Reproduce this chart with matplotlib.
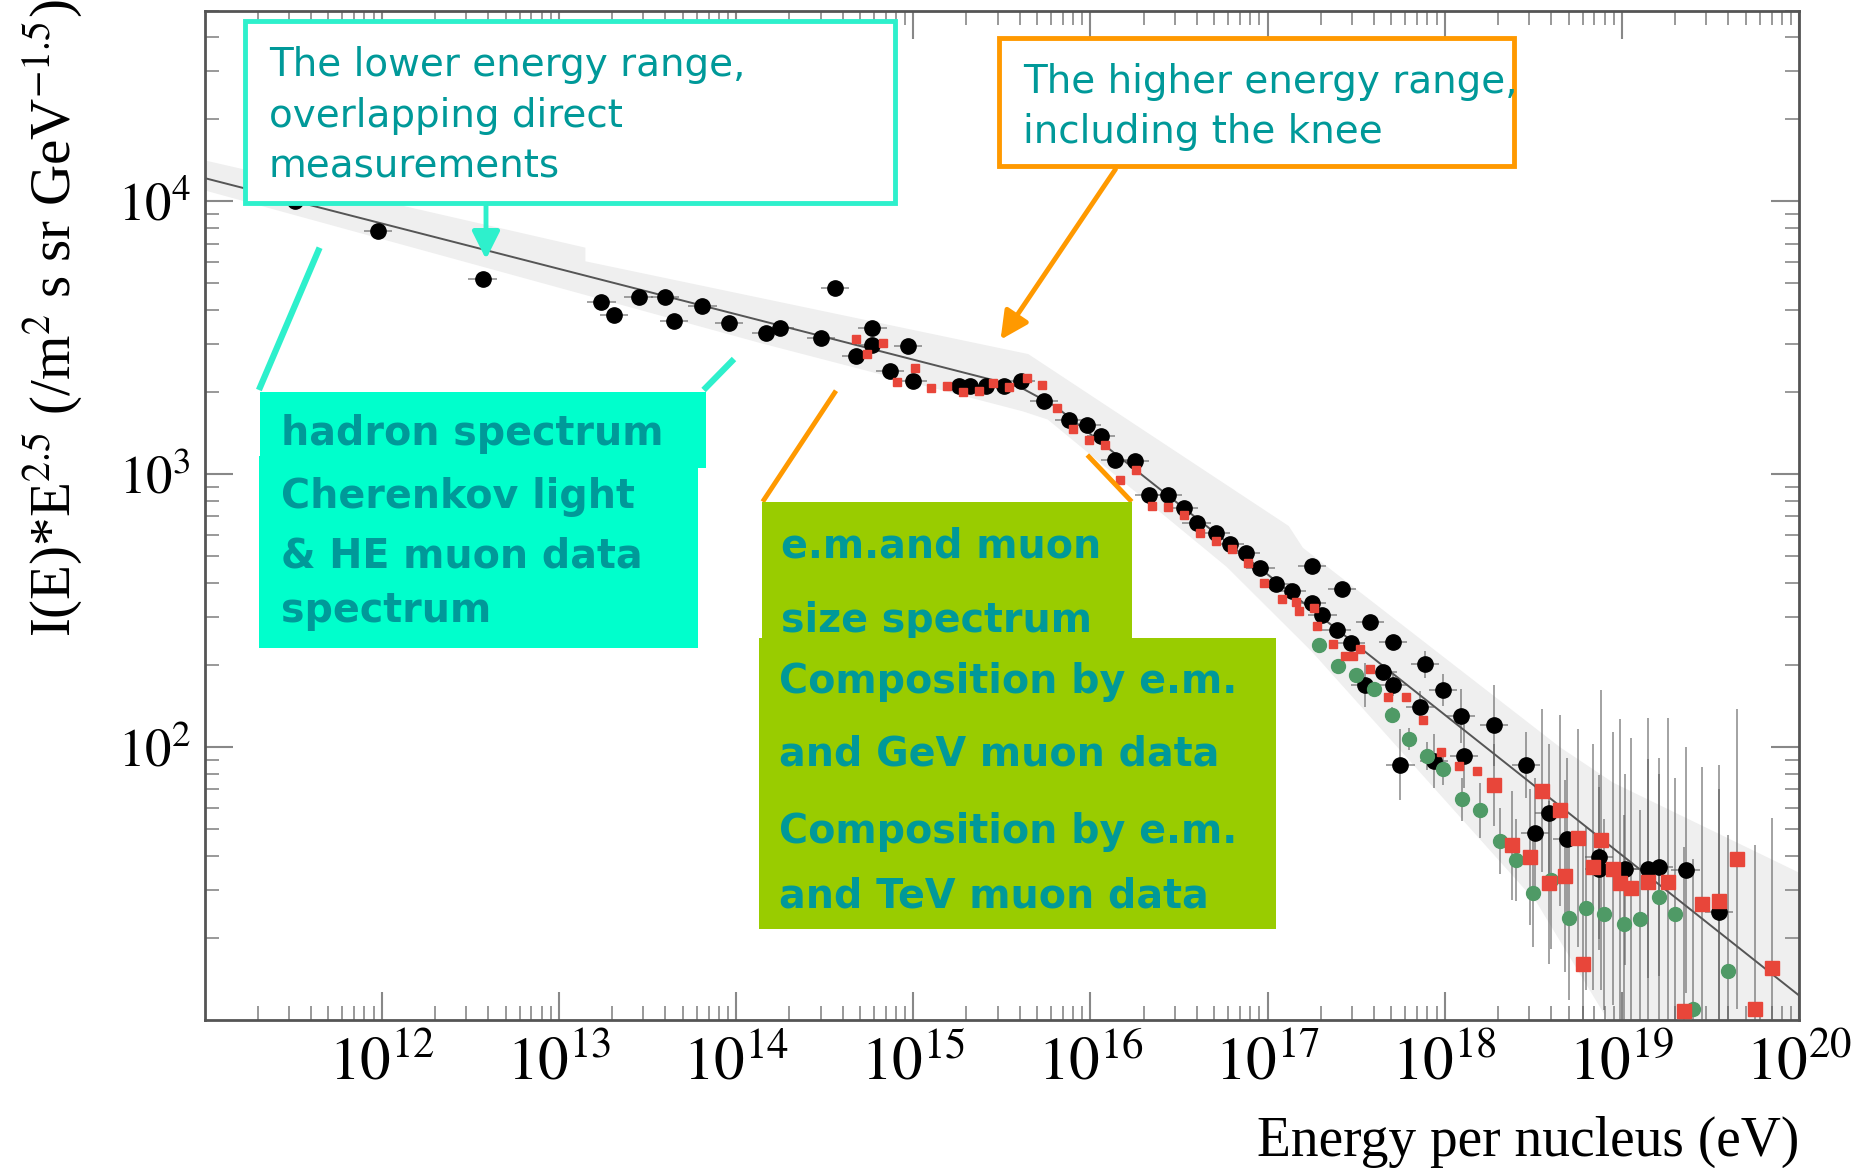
import numpy as np
import matplotlib.pyplot as plt
from matplotlib.patches import Rectangle, FancyArrowPatch
from matplotlib.lines import Line2D
from matplotlib.ticker import LogLocator, NullFormatter

plt.rcParams['font.family'] = ['Liberation Serif', 'DejaVu Serif']
plt.rcParams['mathtext.fontset'] = 'stix'

# ---- data: log10(E/eV), I(E)*E^2.5, error in dex ----
black_lgE = [11.51, 11.98, 12.57, 13.24, 13.31, 13.45, 13.60, 13.65, 13.81, 13.96,
             14.17, 14.25, 14.48, 14.56, 14.68, 14.77, 14.77, 14.87, 14.97, 15.00,
             15.26, 15.32, 15.41, 15.51, 15.61, 15.74, 15.88, 15.98, 16.06, 16.14,
             16.25, 16.33, 16.44, 16.53, 16.60, 16.71, 16.79, 16.88, 16.96, 17.05,
             17.14, 17.25, 17.25, 17.31, 17.42, 17.39, 17.47, 17.58, 17.71, 17.65,
             17.71, 17.55, 17.89, 17.86, 17.99, 18.09, 18.28, 17.94, 18.11, 17.75,
             18.46, 18.59, 18.51, 18.69, 18.87, 18.87, 19.02, 19.15, 19.21, 19.36, 19.55]
black_flux = [10000, 7780, 5180, 4290, 3830, 4450, 4450, 3630, 4140, 3570,
              3280, 3440, 3160, 4800, 2710, 3440, 2980, 2380, 2960, 2190,
              2110, 2110, 2110, 2110, 2200, 1850, 1585, 1520, 1380, 1130,
              1115, 836, 836, 753, 664, 610, 553, 515, 455, 395,
              373, 460, 338, 304, 381, 268, 240, 288, 243, 189,
              169, 169, 201, 140, 162, 130, 120, 89, 93, 86,
              86, 57.5, 48.6, 45.9, 39.6, 35.9, 35.7, 35.9, 36.4, 35.4, 24.9]
black_err = [0, 0, 0, 0, 0, 0, 0, 0, 0, 0,
             0, 0, 0, 0, 0, 0, 0, 0, 0, 0,
             0, 0, 0, 0, 0, 0, 0, 0, 0, 0,
             0, 0, 0, 0, 0, 0, 0, 0, 0, 0,
             0, 0, 0, 0, 0, 0, 0, 0, 0, 0,
             0.04, 0.08, 0.05, 0.06, 0.06, 0.1, 0.15, 0.1, 0.12, 0.13,
             0.12, 0.25, 0.2, 0.3, 0.3, 0.3, 0.35, 0.4, 0.4, 0.45, 0.45]

red_small_lgE = [14.68, 14.74, 14.83, 14.91, 15.01, 15.10, 15.19, 15.28, 15.37, 15.45,
                 15.54, 15.64, 15.73, 15.81, 15.90, 15.99, 16.08, 16.17, 16.26, 16.35,
                 16.44, 16.53, 16.62, 16.71, 16.80, 16.89, 16.98, 17.08, 17.16, 17.18,
                 17.26, 17.28, 17.37, 17.44, 17.48, 17.52, 17.58, 17.68, 17.78, 17.88,
                 17.98, 18.08, 18.18]
red_small_flux = [3130, 2750, 3020, 2170, 2440, 2065, 2110, 1995, 2020, 2160,
                  2095, 2250, 2125, 1745, 1460, 1335, 1280, 955, 1040, 767,
                  759, 711, 610, 569, 530, 473, 398, 350, 340, 316,
                  324, 278, 238, 216, 216, 229, 194, 153, 153, 126,
                  96, 85, 82]

red_big_lgE = [18.28, 18.38, 18.48, 18.55, 18.59, 18.65, 18.68, 18.75, 18.78, 18.84,
               18.88, 18.95, 18.99, 19.05, 19.15, 19.26, 19.35, 19.45, 19.55, 19.65,
               19.75, 19.85]
red_big_flux = [72.8, 43.7, 39.6, 69.3, 31.9, 58.6, 33.7, 46.5, 16.0, 36.4,
                45.6, 35.9, 31.9, 30.5, 32.1, 32.1, 10.8, 26.7, 27.3, 38.8,
                11.0, 15.5]
red_big_err = [0.15, 0.2, 0.25, 0.3, 0.3, 0.35, 0.35, 0.4, 0.45, 0.45,
               0.55, 0.5, 0.6, 0.55, 0.6, 0.6, 0.6, 0.5, 0.5, 0.55,
               0.6, 0.55]

green_lgE = [17.29, 17.40, 17.50, 17.60, 17.70, 17.80, 17.90, 17.99, 18.10, 18.20,
             18.31, 18.40, 18.50, 18.60, 18.70, 18.80, 18.90, 19.01, 19.10, 19.21,
             19.30, 19.40, 19.60]
green_flux = [237, 199, 184, 163, 131, 107, 92.7, 83.4, 64.3, 58.6,
              45.2, 38.5, 29.3, 32.5, 23.7, 25.8, 24.4, 22.4, 23.4, 28.3,
              24.4, 11.0, 15.1]
green_err = [0, 0, 0, 0, 0.03, 0.04, 0.05, 0.06, 0.08, 0.1,
             0.12, 0.15, 0.2, 0.25, 0.3, 0.3, 0.35, 0.4, 0.4, 0.45,
             0.5, 0.55, 0.5]

# fitted spectrum and its grey uncertainty band
fit_lgE = [11.0, 15.6, 15.8, 20.0]
fit_lgI = [4.085, 3.32, 3.25, 1.09]
band_up_lgE = [11.0, 13.15, 13.15, 15.65, 17.12, 17.2, 18.65, 18.95, 20.0]
band_up_lgI = [4.15, 3.83, 3.78, 3.44, 2.81, 2.73, 2.0, 1.87, 1.54]
band_lo_lgE = [11.0, 14.14, 15.62, 15.76, 16.77, 17.25, 18.52, 19.2, 20.0]
band_lo_lgI = [4.04, 3.48, 3.23, 3.20, 2.66, 2.35, 1.43, 0.7, 0.7]

xtick_exp = [12, 13, 14, 15, 16, 17, 18, 19, 20]
ytick_exp = [2, 3, 4]


def dex_err(flux, err):
    flux = np.asarray(flux, float)
    err = np.asarray(err, float)
    return [flux - flux / 10**err, flux * 10**err - flux]


W, H = 1853, 1168
fig = plt.figure(figsize=(W / 100, H / 100), dpi=100)
ax = fig.add_axes([204.5 / W, 1 - 1020 / H, (1799 - 204.5) / W, (1020 - 10.5) / H])
ax.set_xscale('log')
ax.set_yscale('log')
ax.set_xlim(1e11, 1e20)
ax.set_ylim(10, 5e4)

band_x = 10.0 ** np.concatenate([band_up_lgE, band_lo_lgE[::-1]])
band_y = 10.0 ** np.concatenate([band_up_lgI, band_lo_lgI[::-1]])
ax.fill(band_x, band_y, color='#efefef', lw=0, zorder=1)
ax.plot(10.0 ** np.array(fit_lgE), 10.0 ** np.array(fit_lgI), color='#555555', lw=1.4, zorder=2)

ebar = dict(fmt='none', ecolor=(0.35, 0.35, 0.35, 0.6), elinewidth=1.3, capsize=0)

bE = 10.0 ** np.array(black_lgE)
ax.errorbar(bE, black_flux, xerr=[bE - bE / 10**0.08, bE * 10**0.08 - bE],
            yerr=dex_err(black_flux, black_err), zorder=3, **ebar)
ax.plot(bE, black_flux, 'o', color='black', ms=11, zorder=3.5)

gE = 10.0 ** np.array(green_lgE)
ax.errorbar(gE, green_flux, yerr=dex_err(green_flux, green_err), zorder=3, **ebar)
ax.plot(gE, green_flux, 'o', color='#4f9a66', ms=10, zorder=4)

rbE = 10.0 ** np.array(red_big_lgE)
ax.errorbar(rbE, red_big_flux, yerr=dex_err(red_big_flux, red_big_err), zorder=3, **ebar)
ax.plot(rbE, red_big_flux, 's', color='#e8463a', ms=10.5, zorder=5)
ax.plot(10.0 ** np.array(red_small_lgE), red_small_flux, 's', color='#e8463a', ms=6, zorder=5)

# axes cosmetics
ax.set_xticks(10.0 ** np.array(xtick_exp))
ax.set_xticklabels([rf'$10^{{{k}}}$' for k in xtick_exp])
ax.set_yticks(10.0 ** np.array(ytick_exp))
ax.set_yticklabels([rf'$10^{{{k}}}$' for k in ytick_exp])
ax.xaxis.set_minor_locator(LogLocator(base=10, subs=np.arange(2, 10), numticks=30))
ax.yaxis.set_minor_locator(LogLocator(base=10, subs=np.arange(2, 10), numticks=30))
ax.xaxis.set_minor_formatter(NullFormatter())
ax.yaxis.set_minor_formatter(NullFormatter())
ax.tick_params(which='both', direction='in', top=True, right=True, color='#888888')
ax.tick_params(which='major', length=20, width=1.5)
ax.tick_params(which='minor', length=10, width=1.2)
ax.tick_params(axis='x', which='major', labelsize=44, pad=12)
ax.tick_params(axis='y', which='major', labelsize=38, pad=10)
for sp in ax.spines.values():
    sp.set_color('#555555')
    sp.set_linewidth(2)

fig.text(53 / W, 1 - 318 / H, r'I(E)*E$^{2.5}$ (/m$^{2}$ s sr GeV$^{-1.5}$)',
         rotation=90, ha='center', va='center', fontsize=41)
fig.text(1799 / W, 1 - 1156 / H, 'Energy per nucleus (eV)', ha='right', va='baseline', fontsize=40)


# ---- slide annotations (pixel positions, origin top-left) ----
def fx(x):
    return x / W


def fy(y):
    return 1 - y / H


def box(x0, y0, x1, y1, z, **kw):
    fig.add_artist(Rectangle((fx(x0), fy(y1)), fx(x1) - fx(x0), fy(y0) - fy(y1),
                             transform=fig.transFigure, zorder=z, **kw))


def seg(x0, y0, x1, y1, color, lw):
    fig.add_artist(Line2D([fx(x0), fx(x1)], [fy(y0), fy(y1)], transform=fig.transFigure,
                          color=color, lw=lw, solid_capstyle='butt', zorder=6))


def arrow(x0, y0, x1, y1, color, lw):
    fig.add_artist(FancyArrowPatch((fx(x0), fy(y0)), (fx(x1), fy(y1)), transform=fig.transFigure,
                                   arrowstyle='-|>,head_length=1.2,head_width=0.6',
                                   mutation_scale=14, color=color, lw=lw, zorder=6))


def label(x, y, s, z, bold=False):
    fig.text(fx(x), fy(y), s, ha='left', va='baseline', fontsize=28.5 if bold else 28,
             family='DejaVu Sans', fontweight='bold' if bold else 'normal',
             color='#009999', zorder=z)


teal_line = '#2ef0cc'
orange = '#ff9900'

# lower energy range box
box(244.6, 21.3, 894.6, 203.3, 6, facecolor='white', edgecolor=teal_line, lw=3.5)
label(269, 76, 'The lower energy range,', 7)
label(269, 127, 'overlapping direct', 7)
label(269, 178, 'measurements', 7)
arrow(486, 203, 486, 262, teal_line, 3.5)

# higher energy range box
box(998.6, 37.8, 1513.8, 165.5, 6, facecolor='white', edgecolor=orange, lw=3.5)
label(1023, 93, 'The higher energy range,', 7)
label(1023, 143, 'including the knee', 7)
arrow(1117, 167, 999, 342, orange, 3.5)

# hadron spectrum box
seg(319.6, 247.7, 258.9, 390, teal_line, 4.5)
seg(734, 359, 703.6, 390, teal_line, 4.5)
box(260, 391.7, 706, 468, 6, facecolor='#00ffcc', edgecolor='none')
box(259, 456, 697.7, 648.3, 6, facecolor='#00ffcc', edgecolor='none')
label(281, 445, 'hadron spectrum', 7, bold=True)
label(281, 508, 'Cherenkov light', 7, bold=True)
label(281, 568, '& HE muon data', 7, bold=True)
label(281, 622, 'spectrum', 7, bold=True)

# e.m. and muon boxes
seg(836, 390.7, 762.7, 501.7, orange, 3.5)
seg(1087.3, 455, 1131.7, 501.7, orange, 3.5)
box(762.4, 501.7, 1131.9, 638.3, 6, facecolor='#99cc00', edgecolor='none')
label(781, 558, 'e.m.and muon', 6.5, bold=True)
label(781, 632, 'size spectrum', 6.5, bold=True)
box(758.9, 638.3, 1275.5, 929.3, 7, facecolor='#99cc00', edgecolor='none')
label(779, 693, 'Composition by e.m.', 8, bold=True)
label(779, 766, 'and GeV muon data', 8, bold=True)
label(779, 843, 'Composition by e.m.', 8, bold=True)
label(779, 907, 'and TeV muon data', 8, bold=True)

plt.savefig('out.png', dpi=100)
